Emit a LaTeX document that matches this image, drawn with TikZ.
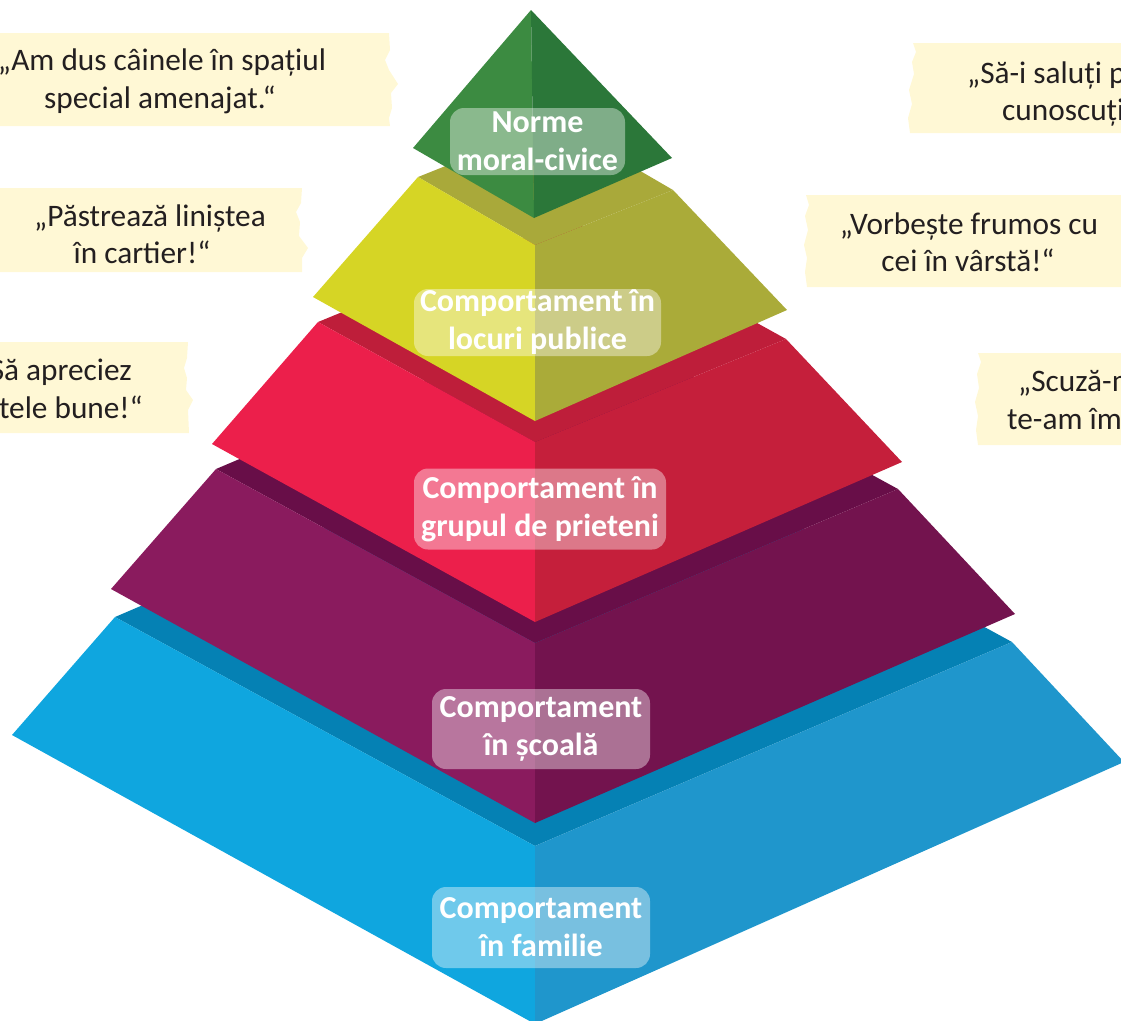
\documentclass[tikz,border=0pt]{standalone}
\usepackage{fontspec}
\setmainfont{Carlito}
\definecolor{notefill}{HTML}{FFF8D5}
\definecolor{notetext}{HTML}{231F20}
\definecolor{gL}{HTML}{3C8B41}
\definecolor{gR}{HTML}{2B7739}
\definecolor{yT}{HTML}{A9A93A}
\definecolor{yL}{HTML}{D6D525}
\definecolor{yR}{HTML}{AAAB39}
\definecolor{rT}{HTML}{BE1E3A}
\definecolor{rL}{HTML}{EC1F4B}
\definecolor{rR}{HTML}{C51F3B}
\definecolor{pT}{HTML}{680E48}
\definecolor{pL}{HTML}{8A1B5E}
\definecolor{pR}{HTML}{73134E}
\definecolor{bT}{HTML}{0581B4}
\definecolor{bL}{HTML}{0FA6DF}
\definecolor{bR}{HTML}{1F96CC}
\begin{document}
\begin{tikzpicture}[x=1pt,y=-1pt,
  notetext/.style={text=notetext, inner sep=0pt, font=\fontsize{31.3}{37}\selectfont},
  lbl/.style={fill=white, fill opacity=0.4, text opacity=1, text=white,
    rounded corners=14pt, font=\bfseries\fontsize{32}{38}\selectfont,
    align=center, inner sep=0pt}]
\useasboundingbox (0,0) rectangle (1121,1020);
\clip (0,0) rectangle (1121,1020);

% ---------- notes ----------
\fill[notefill] (-5,33) -- (389,33) -- (390,50) -- (385,60) -- (389,70) -- (398,84) -- (391,93) -- (392,108) -- (389,118) -- (390,126) -- (-5,126) -- cycle;
\fill[notefill] (-5,188) -- (302,188) -- (301,203) -- (296,212) -- (300,222) -- (299,236) -- (308,248) -- (302,258) -- (302,272) -- (-5,272) -- cycle;
\fill[notefill] (-5,342) -- (188,342) -- (187,358) -- (184,368) -- (187,378) -- (186,390) -- (193,400) -- (188,410) -- (189,433) -- (-5,433) -- cycle;
\fill[notefill] (1130,43) -- (913,43) -- (916,52) -- (912,62) -- (914,74) -- (909,90) -- (912,104) -- (908,118) -- (910,133) -- (1130,133) -- cycle;
\fill[notefill] (1130,195) -- (806,195) -- (809,205) -- (805,216) -- (808,230) -- (804,245) -- (807,258) -- (805,272) -- (807,287) -- (1130,287) -- cycle;
\fill[notefill] (1130,353) -- (978,353) -- (981,362) -- (977,374) -- (979,388) -- (975,402) -- (978,416) -- (976,430) -- (978,445) -- (1130,445) -- cycle;

\node[notetext, anchor=base] (n1a) at (162,70) {„Am dus câinele în spațiul};
\node[notetext, anchor=base] (n1b) at (160,108) {special amenajat.“};
\node[notetext, anchor=base] (n2a) at (150,226) {„Păstrează liniștea};
\node[notetext, anchor=base] (n2b) at (142,263) {în cartier!“};
\node[notetext, anchor=base east] (n3a) at (132,380) {„Să apreciez};
\node[notetext, anchor=base east] (n3b) at (143,418) {faptele bune!“};
\node[notetext, anchor=base west] (n4a) at (967,83) {„Să-i saluți pe cei};
\node[notetext, anchor=base west] (n4b) at (1002,120) {cunoscuți!“};
\node[notetext, anchor=base] (n5a) at (969,234) {„Vorbește frumos cu};
\node[notetext, anchor=base] (n5b) at (968,271) {cei în vârstă!“};
\node[notetext, anchor=base west] (n6a) at (1018,391) {„Scuză-mă că};
\node[notetext, anchor=base west] (n6b) at (1007,429) {te-am împins!“};

% ---------- blue layer ----------
\coordinate (bl) at (115,617); \coordinate (br) at (1012,642);
\coordinate (bf) at (535,846); \coordinate (bb) at (592,413);
\coordinate (blo) at (12,735); \coordinate (bro) at (1124,762);
\coordinate (bfo) at (535,1024);
\fill[bT] (bl) -- (bb) -- (br) -- (bf) -- cycle;
\fill[bL] (bl) -- (bf) -- (bfo) -- (blo) -- cycle;
\fill[bR] (bf) -- (br) -- (bro) -- (bfo) -- cycle;

% ---------- purple layer ----------
\coordinate (pl) at (216,469); \coordinate (pr) at (898,489);
\coordinate (pf) at (535,643); \coordinate (pb) at (579,315);
\coordinate (plo) at (111,589); \coordinate (pro) at (1015,614);
\coordinate (pfo) at (535,823);
\fill[pT] (pl) -- (pb) -- (pr) -- (pf) -- cycle;
\fill[pL] (pl) -- (pf) -- (pfo) -- (plo) -- cycle;
\fill[pR] (pf) -- (pr) -- (pro) -- (pfo) -- cycle;

% ---------- red layer ----------
\coordinate (rl) at (318,322); \coordinate (rr) at (786,339);
\coordinate (rf) at (535,442); \coordinate (rb) at (569,219);
\coordinate (rlo) at (212,444); \coordinate (rro) at (902,462);
\coordinate (rfo) at (535,622);
\fill[rT] (rl) -- (rb) -- (rr) -- (rf) -- cycle;
\fill[rL] (rl) -- (rf) -- (rfo) -- (rlo) -- cycle;
\fill[rR] (rf) -- (rr) -- (rro) -- (rfo) -- cycle;

% ---------- yellow layer ----------
\coordinate (yl) at (418,177); \coordinate (yr) at (673,190);
\coordinate (yf) at (535,245); \coordinate (yb) at (556,122);
\coordinate (ylo) at (313,297); \coordinate (yro) at (787,310);
\coordinate (yfo) at (535,421);
\fill[yT] (yl) -- (yb) -- (yr) -- (yf) -- cycle;
\fill[yL] (yl) -- (yf) -- (yfo) -- (ylo) -- cycle;
\fill[yR] (yf) -- (yr) -- (yro) -- (yfo) -- cycle;

% ---------- green top ----------
\coordinate (ga) at (531,10); \coordinate (gl) at (413,148);
\coordinate (gr) at (672,158); \coordinate (gf) at (534,218);
\fill[gL] (ga) -- (gl) -- (gf) -- cycle;
\fill[gR] (ga) -- (gf) -- (gr) -- cycle;

% ---------- labels ----------
\node[lbl, minimum width=175pt, minimum height=67pt] (l1) at (537.5,141.5) {Norme\\moral-civice};
\node[lbl, minimum width=247pt, minimum height=67pt] (l2) at (537.5,322.5) {Comportament în\\locuri publice};
\node[lbl, minimum width=252pt, minimum height=81pt] (l3) at (540,509) {Comportament în\\grupul de prieteni};
\node[lbl, minimum width=218pt, minimum height=80pt] (l4) at (541,729) {Comportament\\în școală};
\node[lbl, minimum width=218pt, minimum height=81pt] (l5) at (541,927.5) {Comportament\\în familie};
\end{tikzpicture}
\end{document}
